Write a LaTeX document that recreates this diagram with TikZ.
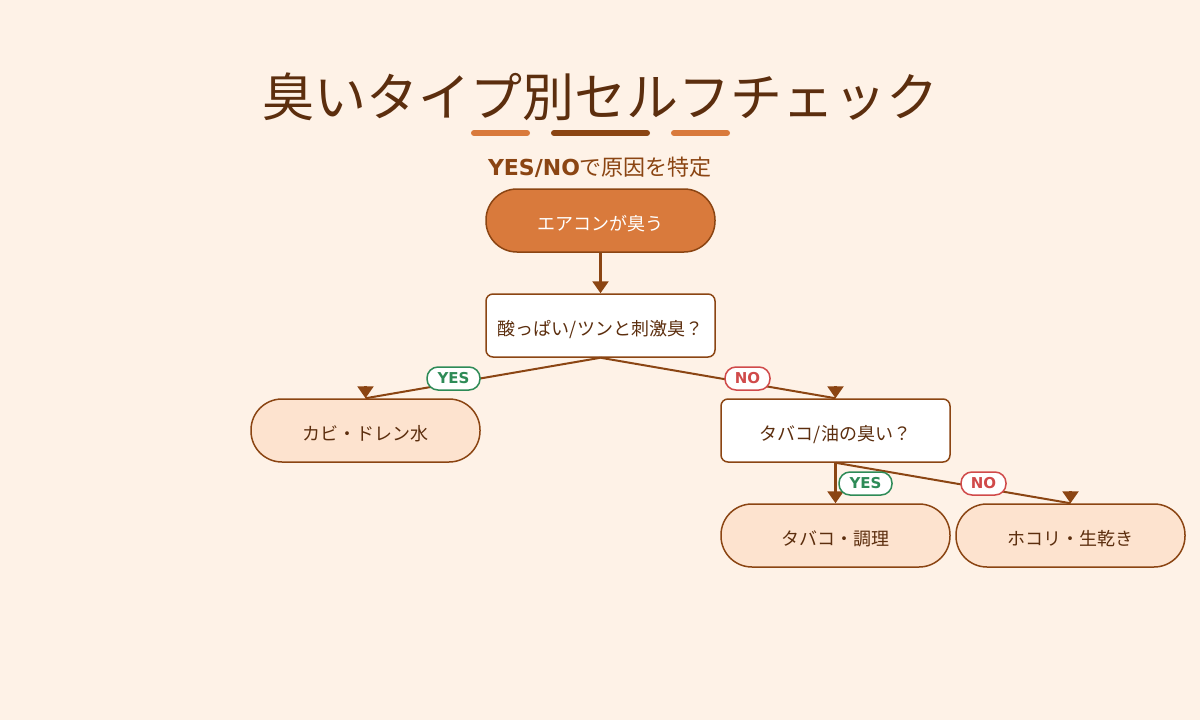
\documentclass[tikz,border=0pt]{standalone}
\usepackage{fontspec}
\setmainfont{Noto Sans CJK JP}
\newfontfamily\dejavu{DejaVu Sans}
\usetikzlibrary{arrows.meta,calc}
\definecolor{bgc}{HTML}{FEF2E7}
\definecolor{titlec}{HTML}{5C2E0E}
\definecolor{brownc}{HTML}{8B4513}
\definecolor{orangec}{HTML}{D97A3C}
\definecolor{lightc}{HTML}{FDE3CF}
\definecolor{greenc}{HTML}{2E8B57}
\definecolor{redc}{HTML}{D04A4A}
\tikzset{
  basebox/.style={draw=brownc, line width=1.5pt, minimum width=229pt, minimum height=63pt, inner sep=0pt, text height=21pt, text depth=1pt, font=\fontsize{18}{20}\selectfont, text=titlec},
  startbox/.style={basebox, rounded corners=31pt, fill=orangec, text=white},
  qbox/.style={basebox, rounded corners=7pt, fill=white},
  endbox/.style={basebox, rounded corners=31pt, fill=lightc},
  conn/.style={draw=brownc, line width=2pt},
  tip/.style={draw=brownc, line width=2.5pt, -{Triangle[width=16pt,length=12pt]}},
  yeslab/.style={draw=greenc, line width=1.5pt, fill=white, text=greenc, rounded corners=11pt, minimum height=23pt, minimum width=53pt, inner sep=0pt, font=\dejavu\bfseries\fontsize{15}{16}\selectfont},
  nolab/.style={yeslab, draw=redc, text=redc, minimum width=45pt},
  bar/.style={line width=6pt, line cap=round}
}
\begin{document}
\begin{tikzpicture}[x=1pt,y=-1pt]
\fill[bgc] (0,0) rectangle (1200,720);
\useasboundingbox (0,0) rectangle (1200,720);
\node[text=titlec, font=\fontsize{52}{56}\selectfont] (title) at (600,97) {臭いタイプ別セルフチェック};
\draw[bar, orangec] (474,133) -- (527,133);
\draw[bar, brownc] (554,133) -- (647,133);
\draw[bar, orangec] (674,133) -- (727,133);
\node[text=brownc, font=\fontsize{22}{25}\selectfont] (sub) at (600,167) {{\dejavu\bfseries YES/NO}で原因を特定};

\node[startbox] (n1) at (600.5,220.5) {エアコンが臭う};
\node[qbox] (n2) at (600.5,325.5) {酸っぱい/ツンと刺激臭？};
\node[endbox] (n3) at (365.5,430.5) {カビ・ドレン水};
\node[qbox] (n4) at (835.5,430.5) {タバコ/油の臭い？};
\node[endbox] (n5) at (835.5,535.5) {タバコ・調理};
\node[endbox] (n6) at (1070.5,535.5) {ホコリ・生乾き};

\draw[tip] (n1.south) -- (n2.north);
\draw[conn] (n2.south) -- (n3.north) ++(0,-12.5) edge[tip] (n3.north);
\draw[conn] (n2.south) -- (n4.north) ++(0,-12.5) edge[tip] (n4.north);
\draw[tip] (n4.south) -- (n5.north);
\draw[conn] (n4.south) -- (n6.north) ++(0,-12.5) edge[tip] (n6.north);

\node[yeslab] (y1) at (453.5,378.5) {YES};
\node[nolab] (no1) at (747.5,378.5) {NO};
\node[yeslab] (y2) at (865.5,483.5) {YES};
\node[nolab] (no2) at (983.5,483.5) {NO};
\end{tikzpicture}
\end{document}
